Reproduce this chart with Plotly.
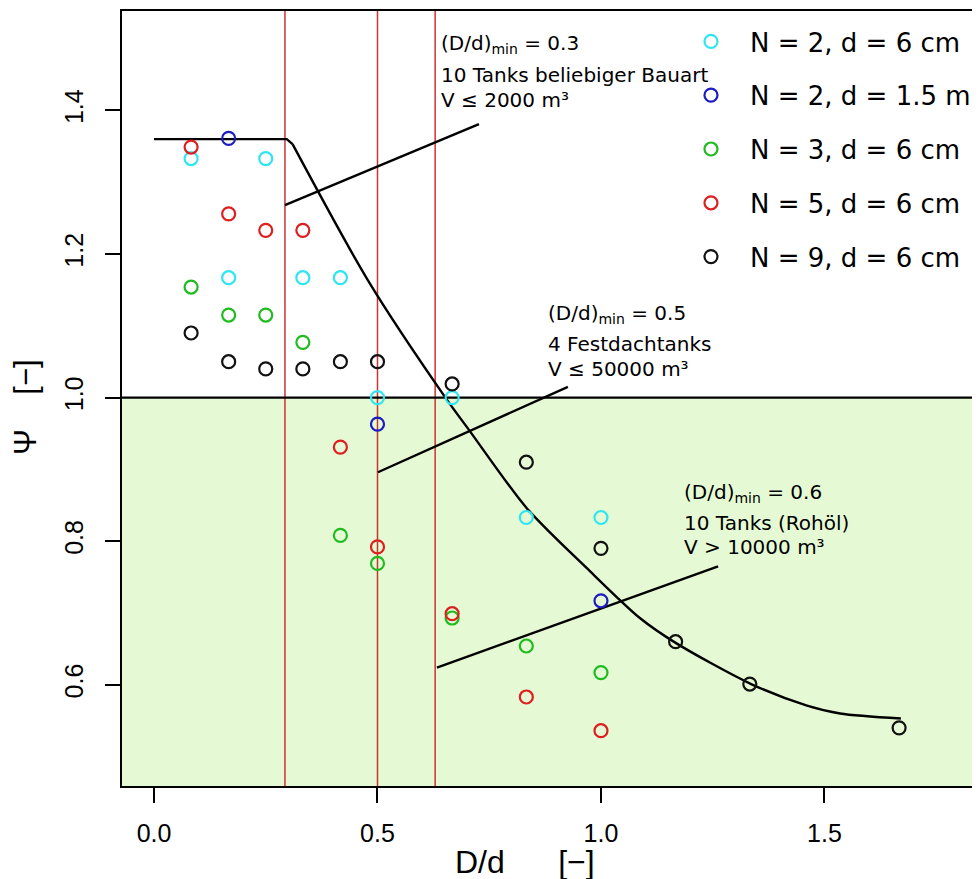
import plotly.graph_objects as go

# measured points, D/d vs Psi
cyan_x = [0.083, 0.25, 0.167, 0.333, 0.417, 0.5, 0.667, 0.833, 1.0]
cyan_y = [1.333, 1.333, 1.167, 1.167, 1.167, 1.0, 1.0, 0.833, 0.833]

blue_x = [0.167, 0.5, 1.0]
blue_y = [1.361, 0.963, 0.717]

green_x = [0.083, 0.167, 0.25, 0.333, 0.417, 0.5, 0.667, 0.833, 1.0]
green_y = [1.154, 1.115, 1.115, 1.077, 0.808, 0.769, 0.693, 0.654, 0.617]

red_x = [0.083, 0.167, 0.25, 0.333, 0.417, 0.5, 0.667, 0.833, 1.0]
red_y = [1.349, 1.256, 1.233, 1.233, 0.931, 0.792, 0.699, 0.583, 0.536]

black_x = [0.083, 0.167, 0.25, 0.333, 0.417, 0.5, 0.667, 0.833, 1.0, 1.167, 1.333, 1.667]
black_y = [1.090, 1.050, 1.040, 1.040, 1.050, 1.050, 1.019, 0.910, 0.790, 0.660, 0.601, 0.540]

series_names = ["N = 2, d = 6 cm", "N = 2, d = 1.5 m", "N = 3, d = 6 cm",
                "N = 5, d = 6 cm", "N = 9, d = 6 cm"]

# envelope: flat plateau, then the fitted falling curve
plateau_x = [0.0, 0.297, 0.31]
plateau_y = [1.36, 1.36, 1.353]
curve_x = [0.31, 0.479, 0.652, 0.707, 0.834, 0.969, 1.087, 1.168, 1.336, 1.461, 1.535, 1.671]
curve_y = [1.353, 1.163, 1.0, 0.953, 0.846, 0.762, 0.693, 0.658, 0.601, 0.571, 0.560, 0.553]

# (D/d)_min markers and their leader lines
dmin_x = [0.293, 0.5, 0.629]
leader_x = [[0.293, 0.727], [0.501, 0.926], [0.633, 1.262]]
leader_y = [[1.268, 1.381], [0.896, 1.015], [0.624, 0.765]]
psi_limit = 1.0

notes = [
    ["(D/d)<sub>min</sub> = 0.3", "10 Tanks beliebiger Bauart", "V ≤ 2000 m³"],
    ["(D/d)<sub>min</sub> = 0.5", "4 Festdachtanks", "V ≤ 50000 m³"],
    ["(D/d)<sub>min</sub> = 0.6", "10 Tanks (Rohöl)", "V > 10000 m³"],
]
note_x = [0.638, 0.877, 1.181]
note_y = [[1.492, 1.450, 1.414], [1.117, 1.075, 1.040], [0.867, 0.825, 0.792]]

X_RANGE = [-0.0716, 1.848]
Y_RANGE = [0.459, 1.5385]
NBSP = "\u00a0"

fig = go.Figure()

fig.add_hrect(y0=Y_RANGE[0], y1=psi_limit, fillcolor="#e5fad4", line_width=0, layer="below")
for xv in dmin_x:
    fig.add_vline(x=xv, line=dict(color="#cc3333", width=1.5), layer="below")
fig.add_hline(y=psi_limit, line=dict(color="black", width=2.2), layer="below")

fig.add_trace(go.Scatter(x=plateau_x, y=plateau_y, mode="lines", showlegend=False,
                         line=dict(color="black", width=2.4)))
fig.add_trace(go.Scatter(x=curve_x, y=curve_y, mode="lines", showlegend=False,
                         line=dict(color="black", width=2.4, shape="spline", smoothing=0.8)))
for lx, ly in zip(leader_x, leader_y):
    fig.add_trace(go.Scatter(x=lx, y=ly, mode="lines", showlegend=False,
                             line=dict(color="black", width=2.4)))

colors = ["#2ee6f0", "#1c1cc0", "#1fbb1f", "#dd1f1f", "#111111"]
xs = [cyan_x, blue_x, green_x, red_x, black_x]
ys = [cyan_y, blue_y, green_y, red_y, black_y]
for name, c, x, y in zip(series_names, colors, xs, ys):
    fig.add_trace(go.Scatter(
        x=x, y=y, mode="markers", name=name, legendgroup=name,
        marker=dict(symbol="circle-open", size=13, color=c, line=dict(width=2.2, color=c)),
    ))

for lines, nx, nys in zip(notes, note_x, note_y):
    for txt, ny in zip(lines, nys):
        fig.add_annotation(x=nx, y=ny, text=txt, showarrow=False, xanchor="left",
                           yanchor="middle", font=dict(family="DejaVu Sans", size=20, color="black"))

fig.add_annotation(x=0.47, y=-0.098, xref="paper", yref="paper", showarrow=False,
                   text="D/d" + NBSP * 6 + "[\u2212]", yanchor="middle",
                   font=dict(family="Liberation Sans", size=32, color="black"))
fig.add_annotation(x=-0.113, y=0.489, xref="paper", yref="paper", showarrow=False,
                   text="Ψ" + NBSP * 4 + "[\u2212]", textangle=-90, xanchor="center", yanchor="middle",
                   font=dict(family="Liberation Sans", size=31, color="black"))

axis_style = dict(showline=True, linecolor="black", linewidth=2, ticks="outside", ticklen=15,
                  tickwidth=2, tickcolor="black", showgrid=False, zeroline=False,
                  tickformat=".1f", tickfont=dict(family="Liberation Sans", size=25, color="black"))
fig.update_xaxes(range=X_RANGE, tickvals=[0, 0.5, 1.0, 1.5], mirror=True,
                 ticklabelstandoff=9, **axis_style)
fig.update_yaxes(range=Y_RANGE, tickvals=[0.6, 0.8, 1.0, 1.2, 1.4], tickangle=-90,
                 ticklabelstandoff=12, **axis_style)

# page body adds an 8px offset, so margins are shifted to keep the plot box in place
fig.update_layout(
    width=980, height=879,
    margin=dict(l=114, r=8, t=1, b=101),
    paper_bgcolor="white", plot_bgcolor="white",
    font=dict(family="Liberation Sans", color="black"),
    legend=dict(x=0.641, y=0.991, xanchor="left", yanchor="top", bgcolor="rgba(0,0,0,0)",
                font=dict(family="DejaVu Sans", size=26, color="black"),
                itemwidth=68, traceorder="grouped", tracegroupgap=17),
)

fig.write_html("out.html")
